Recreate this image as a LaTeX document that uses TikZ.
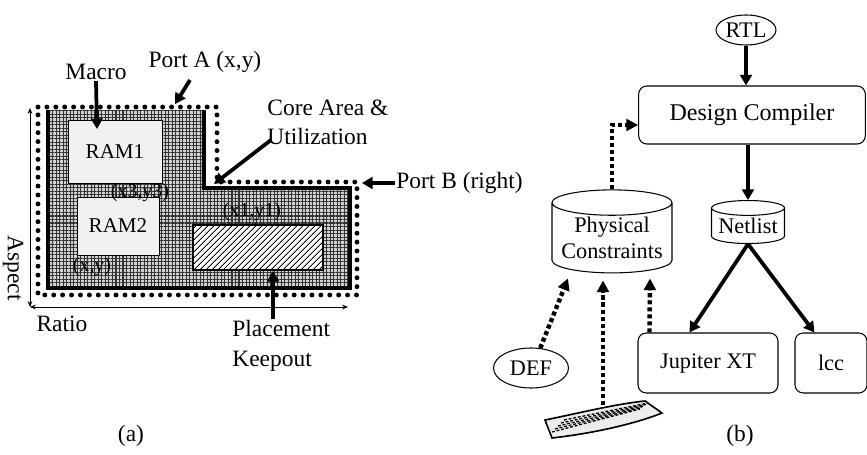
\documentclass[tikz,border=0pt]{standalone}
\usepackage{fontspec}
\setmainfont{Liberation Serif}
\usetikzlibrary{arrows.meta, positioning, shapes.geometric, calc, patterns.meta}

\tikzset{
    lbl/.style={font=\fontsize{20}{25}\selectfont, inner sep=1pt},
    tag/.style={font=\fontsize{17}{20}\selectfont, inner sep=0pt},
    dotborder/.style={line width=4.2pt, dash pattern=on 0pt off 7.6pt, line cap=round},
    coreline/.style={line width=4pt, line join=miter},
    macrobox/.style={
        rectangle,
        draw,
        line width=0.8pt,
        fill=gray!12,
        font=\fontsize{18}{20}\selectfont
    },
    keepout/.style={
        rectangle,
        draw,
        line width=2.5pt,
        preaction={fill=white},
        pattern={Lines[angle=45,distance=4pt,line width=1pt]}
    },
    bigarrow/.style={line width=3.2pt, -{Triangle[length=9pt,width=10pt]}},
    thinarrow/.style={line width=0.6pt, {Stealth[length=5pt,width=4pt]}-{Stealth[length=5pt,width=4pt]}},
    dotarrow/.style={line width=3.8pt, dash pattern=on 3.5pt off 2.5pt, -{Triangle[length=10pt,width=10pt]}},
    toolbox/.style={
        rectangle,
        draw,
        line width=0.9pt,
        rounded corners=7pt,
        align=center,
        font=\fontsize{19}{22}\selectfont
    },
    infile/.style={ellipse, draw, line width=0.9pt, inner sep=0pt, font=\fontsize{19}{22}\selectfont},
    datastore/.style={
        cylinder,
        shape border rotate=90,
        aspect=0.25,
        draw,
        line width=0.9pt,
        inner sep=0pt,
        align=center,
        font=\fontsize{19}{22}\selectfont
    }
}

\begin{document}
\begin{tikzpicture}[x=0.03cm,y=-0.03cm]
    \useasboundingbox (0,0) rectangle (867,455);

    % (a) floorplan: textured core region
    \fill[gray!35] (48,110) -- (204,110) -- (204,188) -- (350,188) -- (350,288) -- (48,288) -- cycle;
    \foreach \ang in {0,90}
        \fill[pattern={Lines[angle=\ang,distance=3pt,line width=0.9pt]}, pattern color=black!80]
            (48,110) -- (204,110) -- (204,188) -- (350,188) -- (350,288) -- (48,288) -- cycle;
    \draw[coreline] (204,110) -- (204,188) -- (350,188) -- (350,288) -- (48,288) -- (48,110);
    \draw[dotborder] (38,107) -- (217,107) -- (217,182) -- (357,182) -- (357,295) -- (38,295) -- cycle;

    \node[macrobox, minimum width=2.82cm, minimum height=1.89cm] (ram1) at (115,151.5) {RAM1};
    \node[macrobox, minimum width=2.46cm, minimum height=1.74cm] (ram2) at (118,226) {RAM2};
    \node[keepout, minimum width=3.9cm, minimum height=1.35cm] (ko) at (258,247.5) {};

    \node[tag] (p3) at (140,193) {(x3,y3)};
    \node[tag] (p0) at (92,267) {(x,y)};
    \node[tag] (p1) at (252,212) {(x1,y1)};

    % labels and pointers
    \node[lbl] (macro) at (96,72) {Macro};
    \coordinate (macrotip) at (97,129);
    \draw[bigarrow] (macro.south) -- (macrotip);

    \node[lbl] (porta) at (205,62) {Port A (x,y)};
    \coordinate (portatip) at (175,104);
    \draw[bigarrow] ($(porta.south)+(-15,6)$) -- (portatip);

    \node[lbl, align=left, anchor=west] (core) at (266,122) {Core Area \&\\Utilization};
    \coordinate (coretip) at (214,184);
    \draw[bigarrow] ($(core.south west)+(5,-6)$) -- (coretip);

    \node[lbl, anchor=west] (portb) at (395,183) {Port B (right)};
    \coordinate (portbtip) at (362,183);
    \draw[bigarrow] (portb.west) -- (portbtip);

    \node[lbl, align=left, anchor=west] (kolbl) at (231,346) {Placement\\Keepout};
    \coordinate (kotip) at (273,271);
    \draw[bigarrow] (kotip |- kolbl.north) -- (kotip);

    \coordinate (origin) at (30,307);
    \coordinate (aspecttop) at (30,108);
    \coordinate (ratioend) at (348,307);
    \draw[thinarrow] (origin) -- (aspecttop);
    \draw[thinarrow] (origin) -- (ratioend);
    \node[lbl, rotate=-90] (aspect) at (13,268) {Aspect};
    \node[lbl] (ratio) at (62,324) {Ratio};

    \node[lbl] (capa) at (131,436) {(a)};

    % (b) tool flow
    \node[infile, minimum width=1.8cm, minimum height=0.9cm] (rtl) at (746,30) {RTL};
    \node[toolbox, minimum width=6.8cm, minimum height=1.74cm, font=\fontsize{20.5}{24}\selectfont] (dc) at (752,115) {Design Compiler};
    \node[datastore, minimum width=2.19cm, minimum height=1.29cm] (nl) at (748,226) {Netlist};
    \node[datastore, minimum width=3.6cm, minimum height=2.49cm] (pc) at (612,238) {Physical\\Constraints};
    \node[toolbox, minimum width=4.2cm, minimum height=1.8cm] (jup) at (708,363) {Jupiter XT};
    \node[toolbox, minimum width=2.16cm, minimum height=1.8cm] (lcc) at (831,363) {lcc};
    \node[infile, minimum width=2.25cm, minimum height=1.2cm] (def) at (531,368) {DEF};

    % hand-entered constraints
    \draw[line width=1.4pt, fill=gray!15] (545,420) .. controls (575,414) and (615,404) .. (645,401)
        -- (662,413) .. controls (645,420) and (605,432) .. (552,438) -- cycle;
    \foreach \i in {0,...,4}
        \draw[line width=1.1pt, dash pattern=on 2.5pt off 1.5pt] (552+\i*3,432-\i*3) -- (640+\i*2,409-\i*1.5);
    \coordinate (pad) at (603,405);

    \draw[bigarrow] (rtl.south) -- (rtl.south |- dc.north);
    \draw[bigarrow] (nl.north |- dc.south) -- (nl.north);
    \draw[bigarrow] (nl.south) -- ($(jup.north west)+(52,0)$);
    \draw[bigarrow] (nl.south) -- ($(lcc.north west)+(20,0)$);

    \draw[dotarrow] (pc.north) |- ($(dc.west)+(0,10)$);
    \draw[dotarrow] (def.65) -- ($(pc.south)+(-44,5)$);
    \draw[dotarrow] (pad) -- ($(pc.south)+(-9,7)$);
    \draw[dotarrow] ($(jup.north west)+(12,0)$) -- ($(pc.south)+(38,5)$);

    \node[lbl] (capb) at (740,436) {(b)};
\end{tikzpicture}
\end{document}
